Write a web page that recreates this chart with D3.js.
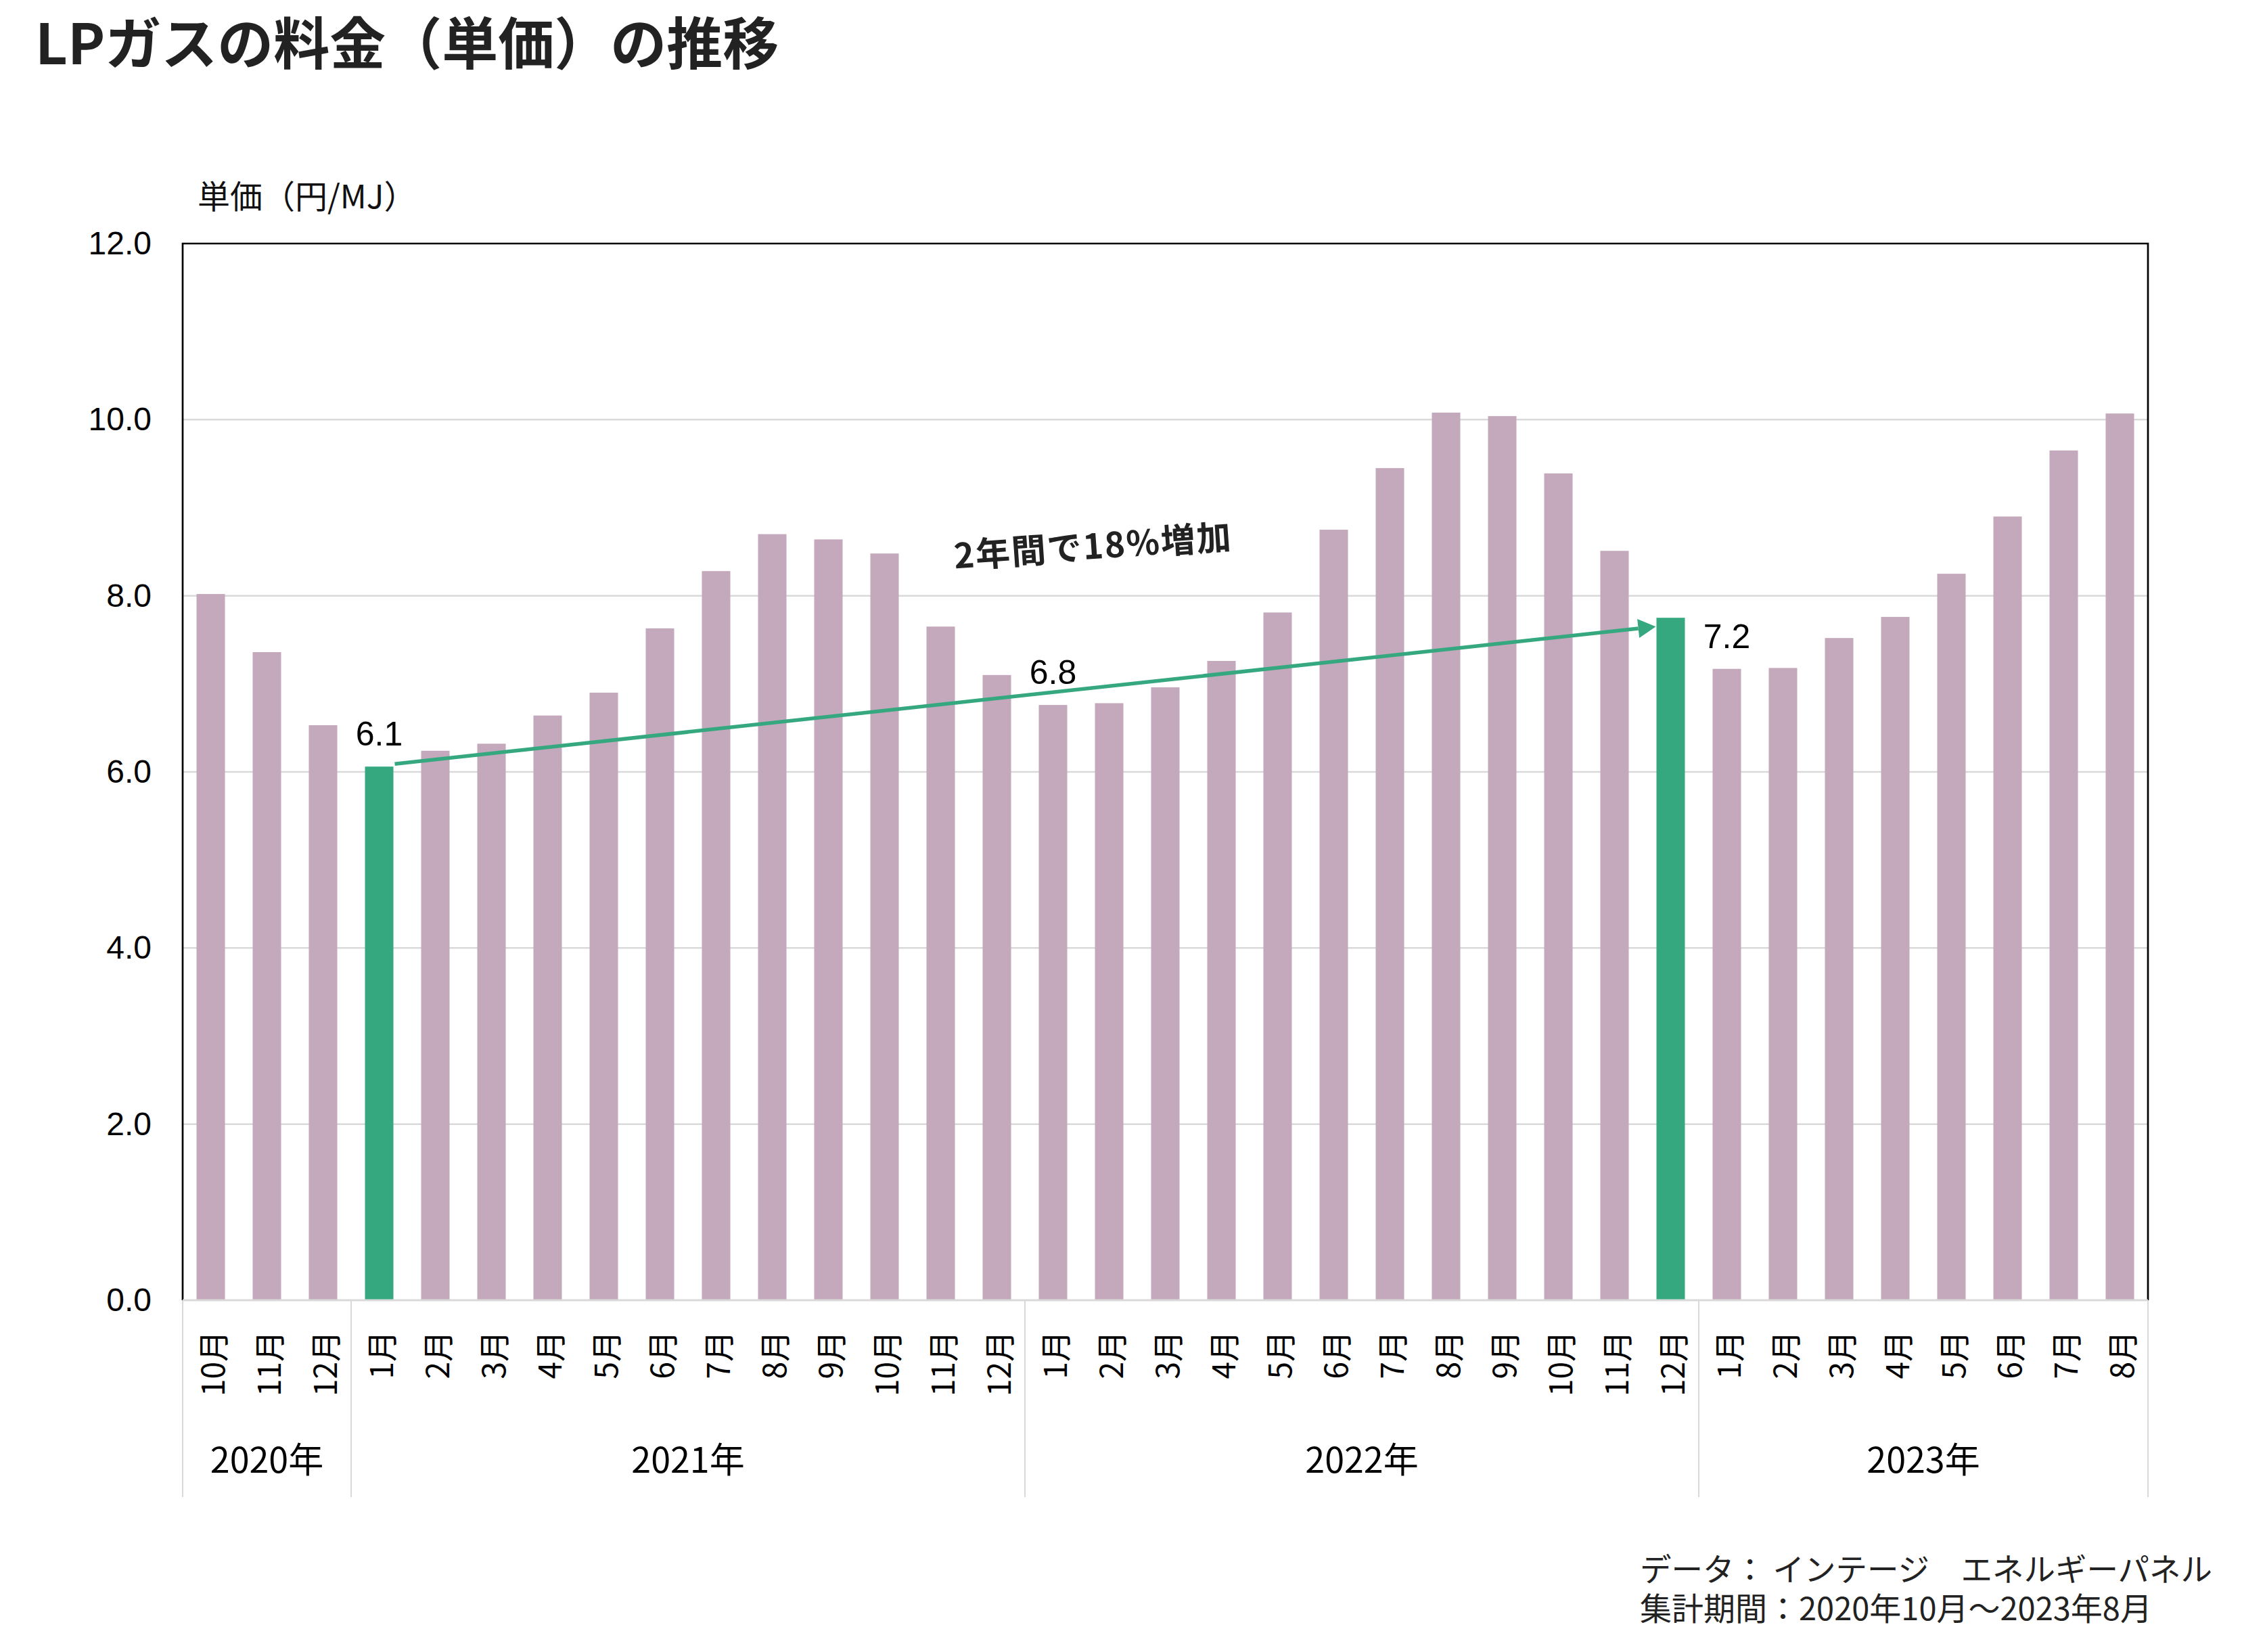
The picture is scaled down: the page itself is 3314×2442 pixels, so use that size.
<!DOCTYPE html>
<html>
<head>
<meta charset="utf-8">
<script src="https://cdn.jsdelivr.net/npm/d3@7"></script>
<style>
  html, body { margin: 0; padding: 0; background: #ffffff; }
  svg { display: block; }
</style>
</head>
<body>
<svg id="chart" width="3314" height="2442"></svg>
<script>
// ---------------- data ----------------
const months = [
  "10月","11月","12月",
  "1月","2月","3月","4月","5月","6月","7月","8月","9月","10月","11月","12月",
  "1月","2月","3月","4月","5月","6月","7月","8月","9月","10月","11月","12月",
  "1月","2月","3月","4月","5月","6月","7月","8月"
];
const values = [
  8.02, 7.36, 6.53,
  6.06, 6.24, 6.32, 6.64, 6.90, 7.63, 8.28, 8.70, 8.64, 8.48, 7.65, 7.10,
  6.76, 6.78, 6.96, 7.26, 7.81, 8.75, 9.45, 10.08, 10.04, 9.39, 8.51, 7.75,
  7.17, 7.18, 7.52, 7.76, 8.25, 8.90, 9.65, 10.07
];
const yearLabels = ["2020年", "2021年", "2022年", "2023年"];
const yearCounts = [3, 12, 12, 8];
const highlightIdx = [3, 26];
const labelIdx = [3, 15, 27];
const yTicks = [0, 2, 4, 6, 8, 10, 12];
const titleText = "LPガスの料金（単価）の推移";
const yTitle = "単価（円/MJ）";
const annotText = "2年間で18%増加";
const footer1 = "データ：  インテージ　エネルギーパネル";
const footer2 = "集計期間：2020年10月～2023年8月";

// ---------------- layout ----------------
const L = 270, R = 3175, T = 360, B = 1922;
const barColor = "#c4a8bc", hiColor = "#36a880";
const gridColor = "#d9d9d9";
const cjk = "'Noto Sans CJK JP', 'Noto Sans', sans-serif";
const latin = "'Liberation Sans', Arial, sans-serif";

const svg = d3.select("#chart");

const x = d3.scaleBand().domain(d3.range(values.length)).range([L, R])
  .paddingInner(0.494).paddingOuter(0.247);
const y = d3.scaleLinear().domain([0, 12]).range([B, T]);

// title
svg.append("text").attr("x", 52).attr("y", 95)
  .attr("font-family", cjk).attr("font-weight", 700).attr("font-size", 83)
  .attr("fill", "#222").text(titleText);

// y title
svg.append("text").attr("x", 292).attr("y", 308)
  .attr("font-family", cjk).attr("font-size", 48)
  .attr("fill", "#111").text(yTitle);

// gridlines
svg.append("g").selectAll("line").data(yTicks.filter(d => d > 0 && d < 12)).join("line")
  .attr("x1", L).attr("x2", R).attr("y1", d => y(d)).attr("y2", d => y(d))
  .attr("stroke", gridColor).attr("stroke-width", 2.5);

// bars
svg.append("g").selectAll("rect").data(values).join("rect")
  .attr("x", (d, i) => x(i)).attr("width", x.bandwidth())
  .attr("y", d => y(d)).attr("height", d => y(0) - y(d))
  .attr("fill", (d, i) => highlightIdx.includes(i) ? hiColor : barColor);

// y axis
const yAxis = d3.axisLeft(y).tickValues(yTicks).tickFormat(d3.format(".1f"))
  .tickSize(0).tickPadding(46);
const gy = svg.append("g").attr("transform", `translate(${L},0)`).call(yAxis);
gy.select(".domain").remove();
gy.selectAll("text").attr("font-family", latin).attr("font-size", 48).attr("fill", "#000");

// frame (top, left, right black), bottom axis gray
svg.append("path")
  .attr("d", `M${L},${B} L${L},${T} L${R},${T} L${R},${B}`)
  .attr("fill", "none").attr("stroke", "#000").attr("stroke-width", 2.7);
svg.append("line").attr("x1", L).attr("x2", R).attr("y1", B).attr("y2", B)
  .attr("stroke", gridColor).attr("stroke-width", 3);

// category dividers
const bounds = [0];
yearCounts.forEach(c => bounds.push(bounds[bounds.length - 1] + c));
const step = x.step();
const bx = i => L + i * step;
svg.append("g").selectAll("line").data(bounds).join("line")
  .attr("x1", d => bx(d)).attr("x2", d => bx(d))
  .attr("y1", B).attr("y2", 2213)
  .attr("stroke", gridColor).attr("stroke-width", 2);

// month labels (rotated)
svg.append("g").selectAll("text").data(months).join("text")
  .attr("transform", (d, i) => `translate(${x(i) + x.bandwidth() / 2},1967) rotate(-90)`)
  .attr("text-anchor", "end").attr("dominant-baseline", "central")
  .attr("font-family", cjk).attr("font-size", 46).attr("fill", "#000")
  .text(d => d);

// year labels
svg.append("g").selectAll("text").data(yearLabels).join("text")
  .attr("x", (d, i) => (bx(bounds[i]) + bx(bounds[i + 1])) / 2)
  .attr("y", 2177).attr("text-anchor", "middle")
  .attr("font-family", cjk).attr("font-size", 52).attr("fill", "#000")
  .text(d => d);

// data labels
svg.append("g").selectAll("text").data(labelIdx).join("text")
  .attr("x", i => x(i) + x.bandwidth() / 2)
  .attr("y", i => y(values[i]) - 31)
  .attr("text-anchor", "middle")
  .attr("font-family", latin).attr("font-size", 50).attr("fill", "#000")
  .text(i => d3.format(".1f")(values[i]));

// arrow
const a0 = highlightIdx[0], a1 = highlightIdx[1];
const x1 = x(a0) + x.bandwidth() + 2, y1 = y(values[a0]) - 4;
const x2 = x(a1) - 1, y2 = y(values[a1]) + 13;
const ang = Math.atan2(y2 - y1, x2 - x1);
const headL = 26, headW = 14;
const hx = x2 - headL * Math.cos(ang), hy = y2 - headL * Math.sin(ang);
svg.append("line").attr("x1", x1).attr("y1", y1).attr("x2", hx).attr("y2", hy)
  .attr("stroke", hiColor).attr("stroke-width", 5.5);
svg.append("path")
  .attr("d", `M${x2},${y2} L${hx + headW * Math.sin(ang)},${hy - headW * Math.cos(ang)} L${hx - headW * Math.sin(ang)},${hy + headW * Math.cos(ang)} Z`)
  .attr("fill", hiColor);

// annotation
svg.append("text")
  .attr("transform", "translate(1617,826) rotate(-4)")
  .attr("text-anchor", "middle")
  .attr("font-family", cjk).attr("font-weight", 700).attr("font-size", 51)
  .attr("letter-spacing", 2)
  .attr("fill", "#222").text(annotText);

// footer
svg.append("text").attr("x", 2424).attr("y", 2337)
  .attr("font-family", cjk).attr("font-size", 46.5).attr("fill", "#222").text(footer1);
svg.append("text").attr("x", 2424).attr("y", 2395)
  .attr("font-family", cjk).attr("font-size", 47).attr("fill", "#222").text(footer2);
</script>
</body>
</html>
